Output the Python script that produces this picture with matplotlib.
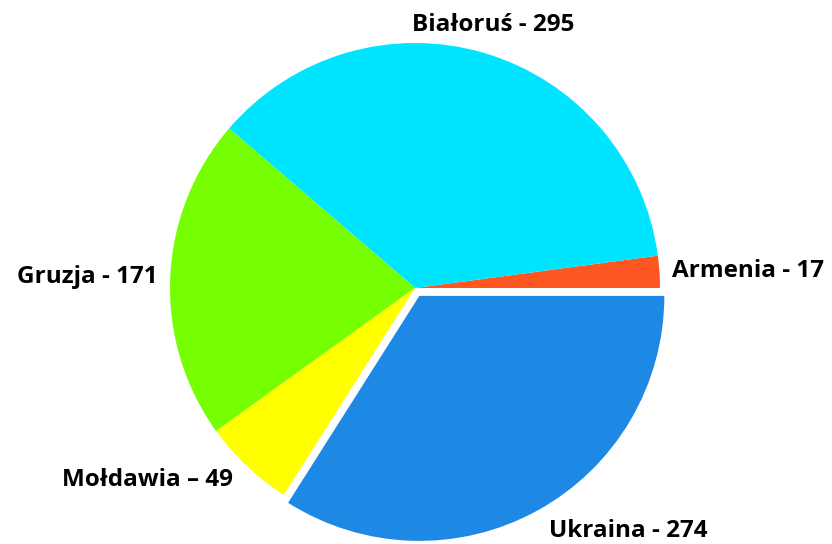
import matplotlib
matplotlib.use("Agg")
import matplotlib.pyplot as plt
import numpy as np

labels = ["Armenia - 17", "Białoruś - 295", "Gruzja - 171", "Mołdawia – 49", "Ukraina - 274"]
values = [17, 295, 171, 49, 274]
colors = ["#FF5722", "#00E5FF", "#76FF03", "#FFFF00", "#1E88E5"]
explode = [0, 0, 0, 0, 9]  # pixels, pie() uses data units
# per-label distance from centre (in radii) and alignment
label_dist = [1.05, 1.12, 1.05, 1.08, 1.095]
label_ha = ["left", "center", "right", "right", "left"]

plt.rcParams["font.family"] = ["Open Sans", "DejaVu Sans"]

fig = plt.figure(figsize=(8.32, 5.44), dpi=100)
ax = fig.add_axes([0, 0, 1, 1])

cx, cy, r = 415, 256, 245
wedges, _ = ax.pie(values, colors=colors, explode=explode, startangle=0,
                   counterclock=True, center=(cx, cy), radius=r,
                   wedgeprops=dict(linewidth=0), frame=True)
ax.set_xlim(0, 832)
ax.set_ylim(0, 544)
ax.set_aspect("equal")
ax.axis("off")

for w, lab, d, ha in zip(wedges, labels, label_dist, label_ha):
    ang = np.deg2rad((w.theta1 + w.theta2) / 2)
    x0, y0 = w.center
    ax.text(x0 + d * r * np.cos(ang), y0 + d * r * np.sin(ang), lab,
            ha=ha, va="center", fontsize=17.5, fontweight="bold", color="black")

fig.savefig("out.png", dpi=100)
